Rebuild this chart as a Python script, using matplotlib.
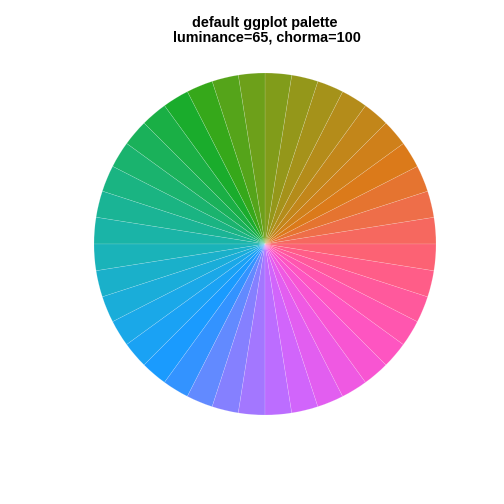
import numpy as np
import matplotlib
matplotlib.use('Agg')
import matplotlib.pyplot as plt

# 40 equal slices, hues as in scales::hue_pal()
n_slices = 40
slice_values = [1] * n_slices
hues = [15 + 9 * i for i in range(n_slices)]
luminance = 65
chroma = 100
# the reference renders a bit darker, with a small floor in empty channels
tone_gamma = 1.4
tone_floor = 0.1


def hcl_to_rgb(h, c, l):
    # polarLUV -> XYZ -> sRGB, clipped like R's hcl(fixup=TRUE)
    white_y, white_u, white_v = 100.0, 0.1978398, 0.4683363
    u = c * np.cos(np.radians(h))
    v = c * np.sin(np.radians(h))
    y = white_y * ((l + 16) / 116) ** 3 if l > 8 else white_y * l / 903.3
    t = u / (13 * l) + white_u
    s = v / (13 * l) + white_v
    x = 9.0 * y * t / (4.0 * s)
    z = -x / 3 - 5 * y + 3 * y / s
    x, y, z = x / 100, y / 100, z / 100
    r = 3.240479 * x - 1.537150 * y - 0.498535 * z
    g = -0.969256 * x + 1.875992 * y + 0.041556 * z
    b = 0.055648 * x - 0.204043 * y + 1.057311 * z
    out = []
    for ch in (r, g, b):
        ch = min(max(ch, 0), 1)
        ch = 12.92 * ch if ch <= 0.0031308 else 1.055 * ch ** (1 / 2.4) - 0.055
        ch = min(max(ch, 0), 1) ** tone_gamma
        out.append(tone_floor + (1 - tone_floor) * ch)
    return tuple(out)


colors = [hcl_to_rgb(h, chroma, luminance) for h in hues]

fig = plt.figure(figsize=(7, 7), dpi=72)
ax = fig.add_axes([0, 0, 1, 1])
ax.pie(slice_values, colors=colors, startangle=0, counterclock=True,
       radius=171, center=(265, 504 - 244), frame=True,
       wedgeprops={'edgecolor': (1, 1, 1, 0.25), 'linewidth': 0.5})
ax.set_xlim(0, 504)
ax.set_ylim(0, 504)
ax.set_aspect('equal')
ax.axis('off')

fig.text(265 / 504, 1 - 30 / 504, 'default ggplot palette\n luminance=65, chorma=100',
         ha='center', va='center', fontsize=14.4, fontweight='bold',
         family='Liberation Sans', linespacing=1.05)

plt.savefig('out.png', dpi=72)
